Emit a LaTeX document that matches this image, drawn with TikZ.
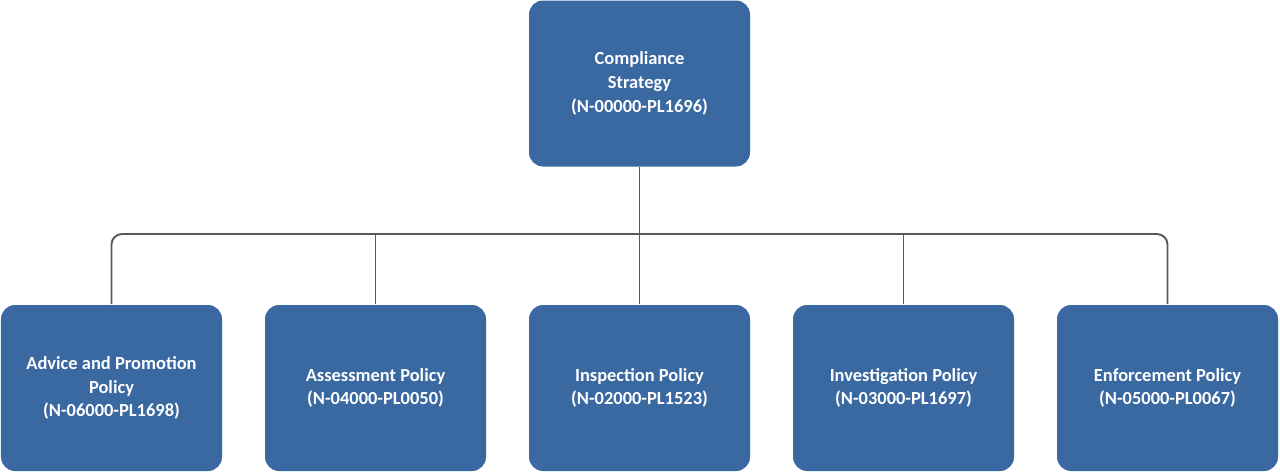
\documentclass[tikz,border=0pt]{standalone}
\usepackage{fontspec}
\setmainfont{Carlito}
\usetikzlibrary{positioning}
\definecolor{boxblue}{HTML}{3A68A1}
\definecolor{linegr}{HTML}{595959}

\begin{document}
\begin{tikzpicture}[
            font = \bfseries\fontsize{10.5}{13.5}\selectfont,
            line width = 1.1pt % connector style
        ]

        \tikzstyle{every node}=[
            align = center
        ]
        \tikzstyle{policy}=[
            fill = boxblue,
            text = white,
            rounded corners = 8pt,
            minimum width = 4.42cm,
            minimum height = 3.32cm,
            inner sep = 2pt
        ]

        \useasboundingbox (0,0) rectangle (25.6,-9.46);

        \node[policy] (top) [at={(12.79,-1.67)}] {Compliance\\Strategy\\(N-00000-PL1696)};
        \node[policy] (adv) [at={(2.23,-7.76)}] {Advice and Promotion\\Policy\\(N-06000-PL1698)};
        \node[policy] (ass) [at={(7.51,-7.76)}] {Assessment Policy\\(N-04000-PL0050)};
        \node[policy] (ins) [at={(12.79,-7.76)}] {Inspection Policy\\(N-02000-PL1523)};
        \node[policy] (inv) [at={(18.07,-7.76)}] {Investigation Policy\\(N-03000-PL1697)};
        \node[policy] (enf) [at={(23.35,-7.76)}] {Enforcement Policy\\(N-05000-PL0067)};
        \coordinate (bus) at (12.79,-4.68);

        \draw[linegr] (top.south) -- (bus);
        \draw[linegr, rounded corners=6pt] (adv.north) |- (bus) -| (enf.north);
        \draw[linegr] (ass.north) -- (ass.north |- bus);
        \draw[linegr] (ins.north) -- (bus);
        \draw[linegr] (inv.north) -- (inv.north |- bus);

    \end{tikzpicture}
\end{document}
